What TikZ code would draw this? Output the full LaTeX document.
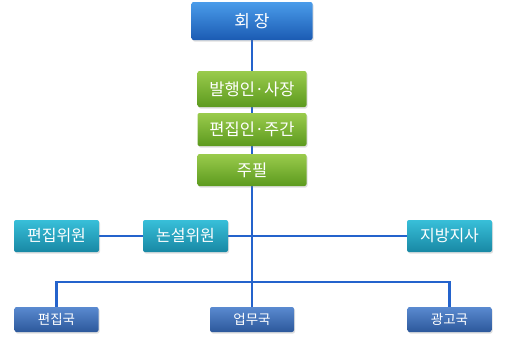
\documentclass[tikz,border=0pt]{standalone}
\usepackage{fontspec}
\setmainfont{Noto Sans CJK KR}
\usepackage{xcolor}
\usetikzlibrary{positioning,shadows,backgrounds}

\definecolor{topblueA}{HTML}{4A9CEA}
\definecolor{topblueB}{HTML}{1B5BB3}
\definecolor{greenA}{HTML}{9ACB4C}
\definecolor{greenB}{HTML}{5C9A1E}
\definecolor{tealA}{HTML}{38BFD9}
\definecolor{tealB}{HTML}{1888A4}
\definecolor{lowblueA}{HTML}{5A8AD0}
\definecolor{lowblueB}{HTML}{2C589B}
\definecolor{linkblue}{HTML}{2463CC}

\begin{document}
\begin{tikzpicture}[x=1pt,y=-1pt,
  box/.style={rounded corners=2pt,text=white,inner sep=0pt,
    drop shadow={shadow xshift=1pt,shadow yshift=-1.5pt,opacity=0.25}},
  headbox/.style={box,top color=topblueA,bottom color=topblueB,
    minimum width=121pt,minimum height=38pt,font=\fontsize{17}{19}\selectfont},
  leadbox/.style={box,top color=greenA,bottom color=greenB,
    minimum width=109pt,minimum height=33pt,font=\fontsize{16.5}{19}\selectfont},
  deskbox/.style={box,top color=tealA,bottom color=tealB,
    minimum width=85pt,minimum height=32pt,font=\fontsize{16}{18}\selectfont},
  deptbox/.style={box,top color=lowblueA,bottom color=lowblueB,
    minimum width=84pt,minimum height=25pt,font=\fontsize{13.5}{15}\selectfont},
  link/.style={linkblue,line width=2.2pt}]
  \useasboundingbox (0,0) rectangle (510,340);
  % top of the chart
  \node[headbox] (hoejang) at (252,21) {회 장};
  \node[leadbox,minimum height=36pt] (balhaeng) at (252,89) {발행인·사장};
  \node[leadbox] (pyeonjip) at (252,129.5) {편집인·주간};
  \node[leadbox,minimum height=32pt] (jupil) at (252,170) {주필};
  % committees
  \node[deskbox] (pwiwon) at (56.5,236) {편집위원};
  \node[deskbox] (nwiwon) at (185.5,236) {논설위원};
  \node[deskbox] (jibang) at (449.5,236) {지방지사};
  % departments
  \node[deptbox] (pguk) at (56.5,319.5) {편집국};
  \node[deptbox] (eguk) at (252,319.5) {업무국};
  \node[deptbox] (gguk) at (449.5,319.5) {광고국};
  \coordinate (bus) at (252,282);
  \begin{scope}[on background layer]
    \draw[link] (hoejang) -- (eguk);
    \draw[link] (pwiwon) -- (jibang);
    \draw[link] (pguk.north) |- (bus) -| (gguk.north);
  \end{scope}
\end{tikzpicture}
\end{document}
